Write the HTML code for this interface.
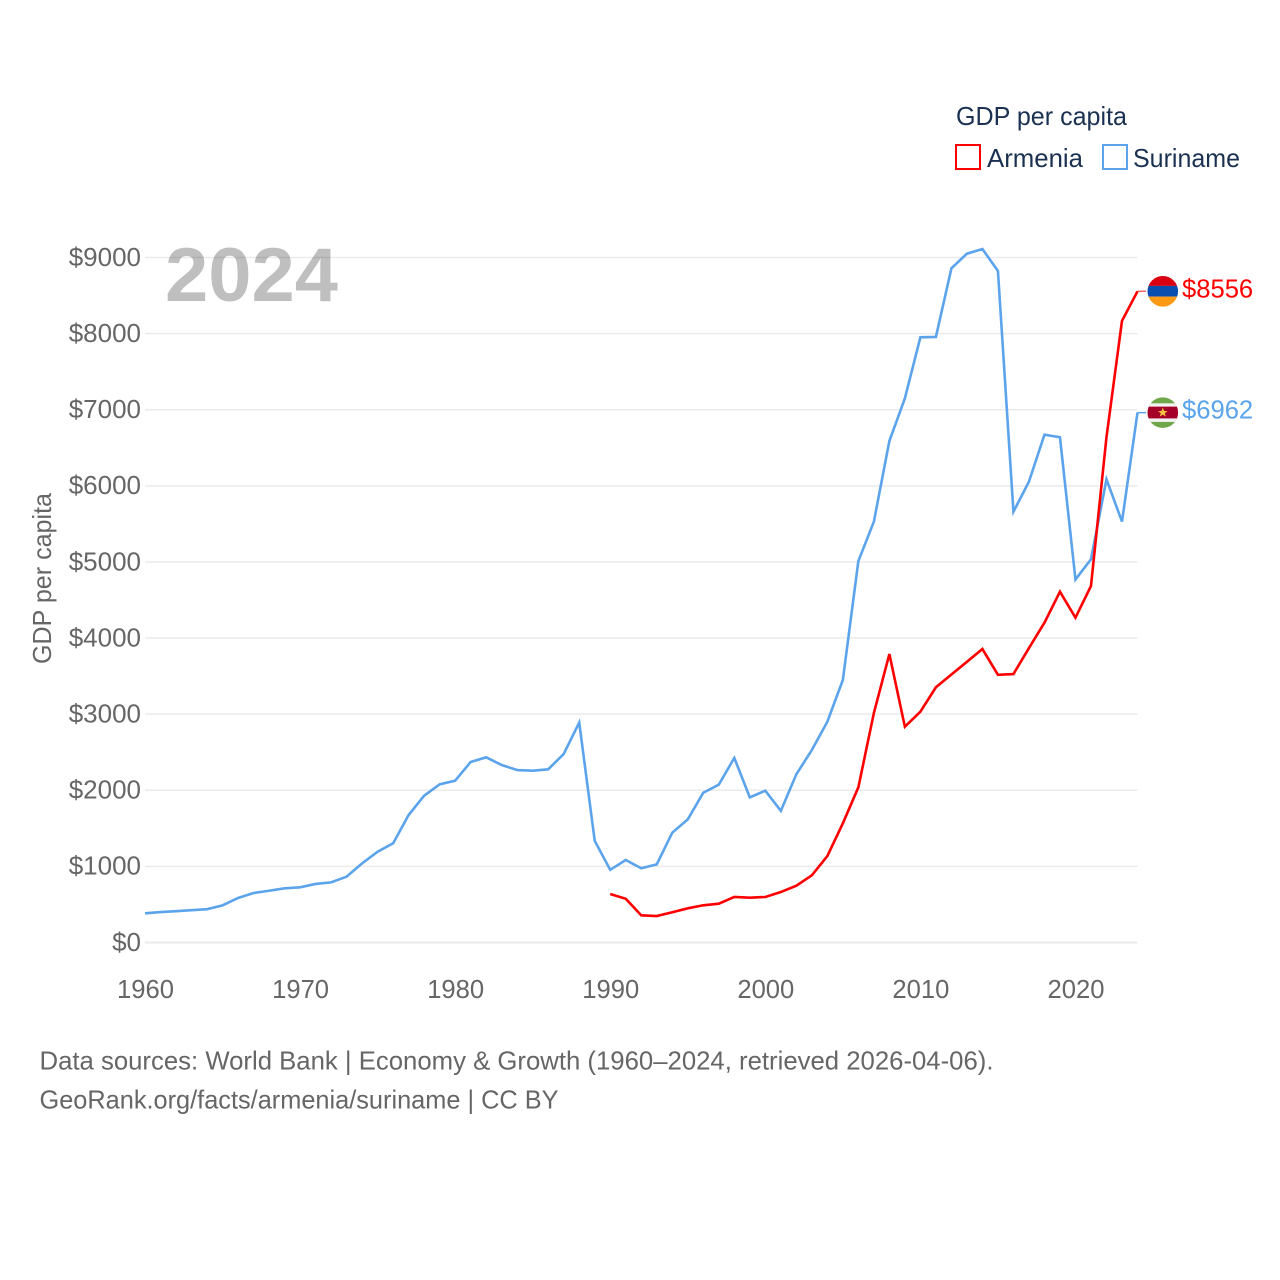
<!DOCTYPE html>
<html lang="en">
<head>
<meta charset="utf-8">
<title>GDP per capita: Armenia and Suriname</title>
<style>
html,body{margin:0;padding:0;background:#fff;}
svg{display:block;font-family:"Liberation Sans",sans-serif;}
.tick{font-size:25.6px;fill:#666;}
.ytick{font-size:26px;fill:#666;}
.legend{font-size:25.6px;fill:#1a3152;}
.foot{font-size:25.6px;fill:#666;}
</style>
</head>
<body>
<svg id="chart" xmlns="http://www.w3.org/2000/svg" width="1280" height="1280" viewBox="0 0 1280 1280">
  <rect x="0" y="0" width="1280" height="1280" fill="#ffffff"/>
  <g id="grid"></g>
  <g id="yticks"></g>
  <g id="xticks"></g>
  <text class="tick" transform="translate(51,578.5) rotate(-90)" text-anchor="middle" textLength="171" lengthAdjust="spacingAndGlyphs">GDP per capita</text>
  <text x="165" y="301" font-size="76" font-weight="700" fill="#000" fill-opacity="0.25" textLength="173" lengthAdjust="spacingAndGlyphs">2024</text>
  <g id="series"></g>
  <g id="ends"></g>

  <g>
    <text class="legend" x="956" y="125" textLength="171" lengthAdjust="spacingAndGlyphs">GDP per capita</text>
    <rect x="956" y="145" width="24" height="24" fill="none" stroke="#ff0000" stroke-width="2"/>
    <text class="legend" x="987" y="167" textLength="96" lengthAdjust="spacingAndGlyphs">Armenia</text>
    <rect x="1103" y="145" width="24" height="24" fill="none" stroke="#5ba4ec" stroke-width="2"/>
    <text class="legend" x="1133" y="167" textLength="107" lengthAdjust="spacingAndGlyphs">Suriname</text>
  </g>

  <text class="foot" x="39.5" y="1069.5" textLength="954" lengthAdjust="spacingAndGlyphs">Data sources: World Bank | Economy &amp; Growth (1960–2024, retrieved 2026-04-06).</text>
  <text class="foot" x="39.5" y="1108.5" textLength="519" lengthAdjust="spacingAndGlyphs">GeoRank.org/facts/armenia/suriname | CC BY</text>
</svg>
<script>
const firstYear = 1960;
const lastYear = 2024;
const xTickYears = [1960, 1970, 1980, 1990, 2000, 2010, 2020];
const yTickValues = [0, 1000, 2000, 3000, 4000, 5000, 6000, 7000, 8000, 9000];
const surinameStartYear = 1960;
const surinameValues = [384, 400, 412, 425, 438, 488, 585, 650, 680, 712, 725, 769, 790, 865, 1040, 1193, 1303, 1675, 1929, 2078, 2126, 2372, 2433, 2332, 2266, 2257, 2275, 2477, 2890, 1335, 955, 1084, 975, 1027, 1443, 1618, 1968, 2074, 2425, 1907, 1995, 1730, 2210, 2529, 2901, 3449, 5012, 5529, 6589, 7150, 7952, 7956, 8858, 9050, 9112, 8823, 5660, 6055, 6672, 6638, 4770, 5035, 6085, 5530, 6962];
const armeniaStartYear = 1990;
const armeniaValues = [637, 575, 357, 348, 397, 449, 489, 510, 598, 589, 598, 663, 746, 883, 1136, 1566, 2039, 3015, 3790, 2835, 3033, 3353, 3521, 3688, 3856, 3518, 3527, 3869, 4202, 4609, 4268, 4684, 6640, 8167, 8556];

const SVG_NS = 'http://www.w3.org/2000/svg';
function xScale(year) {
  return 145 + (year - firstYear) * (1137.5 - 145) / (lastYear - firstYear);
}
function yScale(value) {
  return 942.5 - value * 0.07611;
}
function make(tag, parent) {
  const el = document.createElementNS(SVG_NS, tag);
  document.getElementById(parent).appendChild(el);
  return el;
}
function linePoints(startYear, values) {
  return values.map(function (v, i) {
    return xScale(startYear + i).toFixed(2) + ',' + yScale(v).toFixed(2);
  }).join(' ');
}

yTickValues.forEach(function (v) {
  const line = make('line', 'grid');
  
  
  line.setAttribute('x1', xScale(firstYear));
  line.setAttribute('x2', xScale(lastYear));
  line.setAttribute('y1', yScale(v));
  line.setAttribute('y2', yScale(v));
  line.setAttribute('stroke', '#ebebeb');
  line.setAttribute('stroke-width', v === 0 ? '2' : '1.5');

  const label = make('text', 'yticks');
  
  
  label.setAttribute('class', 'ytick');
  label.setAttribute('x', 141);
  label.setAttribute('y', yScale(v) + 8.3);
  label.setAttribute('text-anchor', 'end');
  label.textContent = '$' + v;
});

xTickYears.forEach(function (year) {
  const label = make('text', 'xticks');
  
  
  label.setAttribute('class', 'tick');
  label.setAttribute('x', xScale(year) + 0.5);
  label.setAttribute('y', 998);
  label.setAttribute('text-anchor', 'middle');
  label.textContent = String(year);
});

const surinameLine = make('polyline', 'series');


surinameLine.setAttribute('points', linePoints(surinameStartYear, surinameValues));
surinameLine.setAttribute('fill', 'none');
surinameLine.setAttribute('stroke', '#5ba4ec');
surinameLine.setAttribute('stroke-width', '2.6');
surinameLine.setAttribute('stroke-linejoin', 'miter');

const armeniaLine = make('polyline', 'series');


armeniaLine.setAttribute('points', linePoints(armeniaStartYear, armeniaValues));
armeniaLine.setAttribute('fill', 'none');
armeniaLine.setAttribute('stroke', '#ff0000');
armeniaLine.setAttribute('stroke-width', '2.6');
armeniaLine.setAttribute('stroke-linejoin', 'miter');

function band(group, y, h, color) {
  const r = document.createElementNS(SVG_NS, 'rect');
  r.setAttribute('x', -16);
  r.setAttribute('y', y);
  r.setAttribute('width', 32);
  r.setAttribute('height', h);
  r.setAttribute('fill', color);
  group.appendChild(r);
}

/* Armenia end marker */
const armeniaLast = armeniaValues[armeniaValues.length - 1];
const armeniaY = yScale(armeniaLast);
const armeniaConnector = make('line', 'ends');


armeniaConnector.setAttribute('x1', xScale(lastYear));
armeniaConnector.setAttribute('x2', 1146);
armeniaConnector.setAttribute('y1', armeniaY);
armeniaConnector.setAttribute('y2', armeniaY);
armeniaConnector.setAttribute('stroke', '#ff0000');
armeniaConnector.setAttribute('stroke-opacity', '0.6');
armeniaConnector.setAttribute('stroke-width', '1.5');

const clipDefs = make('defs', 'ends');
clipDefs.innerHTML = '<clipPath id="flag-clip"><circle cx="0" cy="0" r="15.3"/></clipPath>';

const armeniaFlag = make('g', 'ends');


armeniaFlag.setAttribute('transform', 'translate(1162.8,' + armeniaY + ')');
armeniaFlag.setAttribute('clip-path', 'url(#flag-clip)');
band(armeniaFlag, -16, 10.6, '#d90012');
band(armeniaFlag, -5.4, 10.7, '#0a4fb0');
band(armeniaFlag, 5.3, 10.7, '#ff9a14');

const armeniaLabel = make('text', 'ends');


armeniaLabel.setAttribute('x', 1182);
armeniaLabel.setAttribute('y', armeniaY + 6);
armeniaLabel.setAttribute('font-size', '25.6');
armeniaLabel.setAttribute('fill', '#ff0000');
armeniaLabel.textContent = '$' + armeniaLast;

/* Suriname end marker */
const surinameLast = surinameValues[surinameValues.length - 1];
const surinameY = yScale(surinameLast);
const surinameConnector = make('line', 'ends');


surinameConnector.setAttribute('x1', xScale(lastYear));
surinameConnector.setAttribute('x2', 1146);
surinameConnector.setAttribute('y1', surinameY);
surinameConnector.setAttribute('y2', surinameY);
surinameConnector.setAttribute('stroke', '#5ba4ec');
surinameConnector.setAttribute('stroke-width', '1.5');

const surinameFlag = make('g', 'ends');


surinameFlag.setAttribute('transform', 'translate(1162.8,' + surinameY + ')');
surinameFlag.setAttribute('clip-path', 'url(#flag-clip)');
band(surinameFlag, -16, 32, '#6fa64a');
band(surinameFlag, -9.3, 18.6, '#f2f2f2');
band(surinameFlag, -6, 11.8, '#a5002a');
const star = document.createElementNS(SVG_NS, 'polygon');
star.setAttribute('points', '0,-5 1.3,-1.6 4.8,-1.5 2,0.6 3,4 0,2 -3,4 -2,0.6 -4.8,-1.5 -1.3,-1.6');
star.setAttribute('fill', '#f5c542');
surinameFlag.appendChild(star);

const surinameLabel = make('text', 'ends');


surinameLabel.setAttribute('x', 1182);
surinameLabel.setAttribute('y', surinameY + 6);
surinameLabel.setAttribute('font-size', '25.6');
surinameLabel.setAttribute('fill', '#5ba4ec');
surinameLabel.textContent = '$' + surinameLast;
</script>
</body>
</html>
